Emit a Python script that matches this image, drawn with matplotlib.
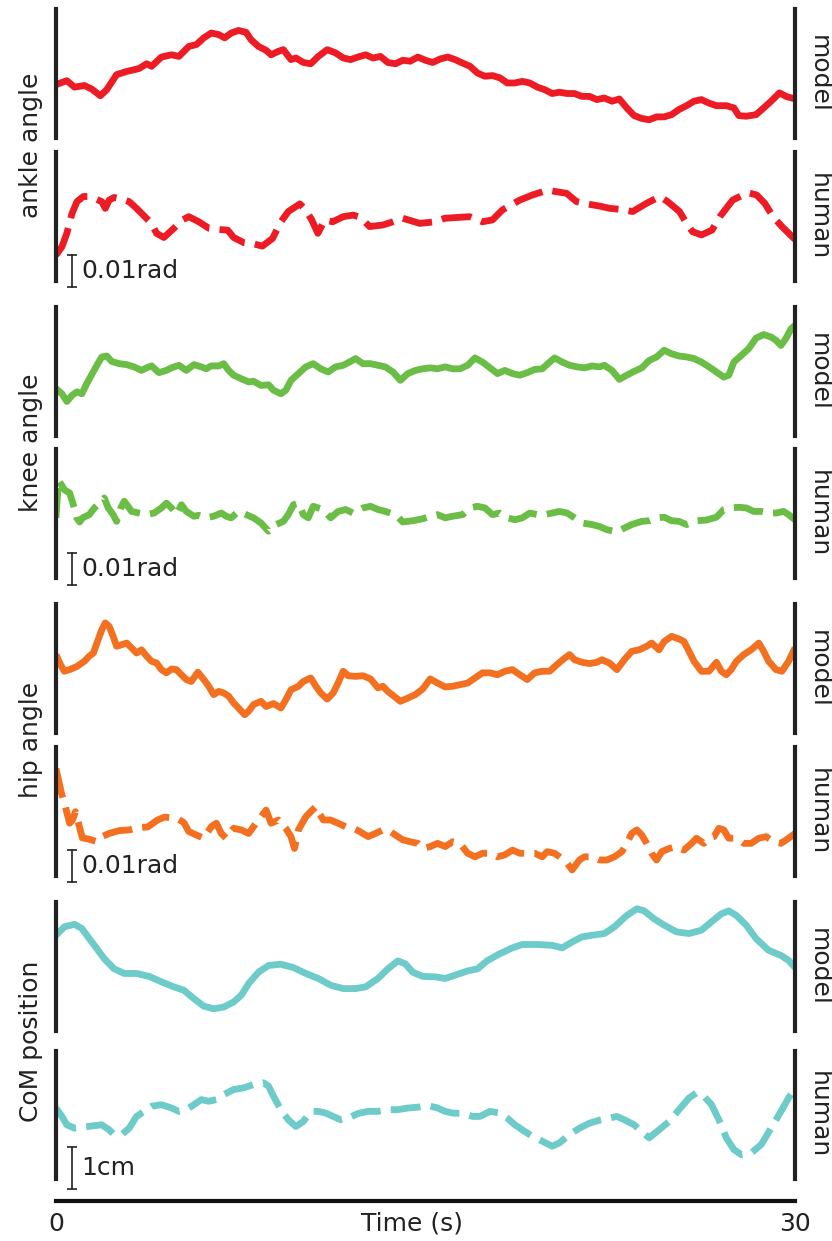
import numpy as np
import matplotlib
matplotlib.use("Agg")
import matplotlib.pyplot as plt

# ---------------- data (time in s, angles in mrad, CoM in mm) ----------------
ankle_model_t = [0.0, 0.44, 0.75, 1.15, 1.45, 1.80, 2.06, 2.46, 2.87, 3.37, 3.68, 3.88, 4.28, 4.69, 4.99, 5.39, 5.70,
                 6.00, 6.30, 6.61, 6.85, 7.11, 7.41, 7.72, 7.92, 8.22, 8.53, 8.73, 9.03, 9.23, 9.54, 9.74, 10.04,
                 10.34, 10.65, 11.01, 11.35, 11.66, 11.96, 12.26, 12.57, 12.87, 13.17, 13.47, 13.78, 14.08, 14.38,
                 14.69, 14.99, 15.29, 15.60, 15.90, 16.20, 16.51, 16.81, 17.11, 17.41, 17.72, 18.02, 18.32, 18.63,
                 18.93, 19.23, 19.54, 19.84, 20.14, 20.44, 20.75, 21.05, 21.35, 21.66, 21.96, 22.26, 22.57, 22.87,
                 23.17, 23.47, 23.78, 24.08, 24.38, 24.69, 24.99, 25.29, 25.60, 25.90, 26.20, 26.51, 26.81, 27.21,
                 27.52, 27.72, 28.02, 28.42, 28.73, 29.03, 29.37, 29.64, 30.0]
ankle_model_v = [16.7, 17.9, 15.9, 16.4, 15.3, 13.2, 15.1, 19.8, 20.8, 21.7, 23.2, 22.4, 25.3, 26.0, 25.5, 28.6, 29.2,
                 31.3, 32.8, 32.3, 31.3, 32.8, 33.6, 33.0, 30.7, 28.6, 27.4, 26.0, 27.1, 27.6, 24.5, 25.0, 23.6,
                 23.2, 25.5, 27.6, 26.6, 25.0, 24.5, 25.3, 26.0, 25.0, 25.5, 23.6, 23.2, 24.3, 24.0,
                 25.3, 24.3, 23.6, 24.7, 25.3, 24.5, 23.4, 22.4, 20.3, 19.3, 19.5, 18.8, 17.2, 17.2,
                 17.7, 17.2, 15.9, 15.1, 13.9, 14.3, 13.9, 13.9, 13.0, 13.0, 12.0, 12.5, 11.5, 12.2,
                 9.4, 7.0, 6.1, 5.7, 6.6, 6.6, 7.3, 8.9, 10.1, 11.5, 12.0, 10.9, 10.1, 10.1,
                 9.4, 7.0, 6.8, 7.3, 9.4, 11.5, 14.1, 13.0, 12.2]

ankle_human_t = [0.0, 0.24, 0.44, 0.65, 0.85, 1.11, 1.35, 1.66, 1.86, 2.00, 2.16, 2.36, 2.67, 2.97, 3.27, 3.58, 3.88,
                 4.08, 4.38, 4.79, 5.09, 5.39, 5.80, 6.20, 6.61, 6.97, 7.21, 7.62, 8.02, 8.38, 8.79, 9.13, 9.43,
                 9.90, 10.14, 10.38, 10.63, 10.91, 11.23, 11.66, 12.06, 12.36, 12.73, 13.27, 13.68, 14.08, 14.77,
                 15.37, 15.78, 16.79, 17.31, 17.72, 18.12, 18.83, 19.35, 19.96, 20.32, 20.73, 21.13, 21.54, 22.08,
                 22.48, 22.89, 23.41, 23.98, 24.51, 24.83, 25.31, 25.60, 25.84, 26.20, 26.63, 26.95, 27.47, 28.08,
                 28.44, 28.77, 29.11, 29.47, 30.0]
ankle_human_v = [8.1, 10.7, 14.9, 21.1, 24.8, 26.4, 26.4, 25.5, 24.8, 22.7, 25.3, 26.1, 25.6, 24.8, 22.7, 20.3, 18.0,
                 14.9, 13.6, 16.5, 18.9, 20.1, 18.5, 16.5, 16.1, 15.9, 13.6, 12.0, 11.6, 10.9, 13.3, 18.5, 21.7,
                 24.1, 22.2, 19.1, 14.9, 19.1, 18.5, 20.1, 20.6, 19.9, 17.0, 17.5, 18.5, 19.6, 18.0,
                 18.5, 19.6, 20.1, 18.5, 19.1, 22.2, 25.3, 26.9, 28.4, 27.9, 27.4, 24.8, 24.1, 23.4,
                 22.7, 22.4, 21.7, 24.3, 26.4, 24.8, 21.7, 18.0, 15.4, 14.4, 15.9, 20.1, 25.3, 27.6,
                 26.9, 24.3, 20.1, 17.0, 13.0]

knee_model_t = [0.0, 0.24, 0.44, 0.65, 0.85, 1.05, 1.25, 1.45, 1.66, 1.86, 2.06, 2.26, 2.57, 2.87, 3.17, 3.47, 3.68,
                3.88, 4.18, 4.48, 4.69, 4.99, 5.29, 5.60, 5.90, 6.10, 6.30, 6.61, 6.81, 7.01, 7.21, 7.52, 7.82,
                8.02, 8.32, 8.63, 8.83, 9.13, 9.33, 9.54, 9.84, 10.14, 10.44, 10.75, 11.05, 11.35, 11.66, 11.96,
                12.16, 12.46, 12.77, 13.07, 13.37, 13.68, 13.98, 14.28, 14.59, 14.89, 15.19, 15.49, 15.80, 16.10,
                16.40, 16.71, 17.01, 17.31, 17.62, 17.92, 18.22, 18.53, 18.83, 19.13, 19.43, 19.74, 20.04, 20.24,
                20.55, 20.85, 21.15, 21.45, 21.76, 22.06, 22.26, 22.57, 22.87, 23.17, 23.47, 23.78, 24.08, 24.38,
                24.69, 24.99, 25.29, 25.60, 25.90, 26.20, 26.51, 26.81, 27.11, 27.31, 27.52, 27.82, 28.12, 28.42,
                28.73, 29.03, 29.23, 29.43, 29.64, 29.84, 30.0]
knee_model_v = [14.8, 13.2, 10.8, 12.7, 13.8, 13.2, 16.4, 19.2, 22.1, 24.7, 25.0, 23.3, 22.6, 22.3, 21.6, 20.5, 21.3,
                21.9, 19.8, 20.5, 21.3, 22.1, 20.5, 22.3, 21.6, 21.0, 21.9, 21.9, 22.6, 20.5, 19.0, 17.9, 16.9,
                17.1, 15.8, 16.0, 14.3, 13.2, 14.3, 17.4, 19.5, 21.6, 22.6, 21.0, 20.0, 21.6, 22.1, 23.3,
                24.2, 22.6, 22.6, 22.1, 21.6, 20.0, 17.4, 19.5, 20.5, 21.0, 21.3, 21.0, 21.6, 21.0,
                21.0, 22.1, 24.4, 23.1, 21.3, 19.5, 20.5, 19.5, 19.0, 19.8, 20.8, 21.0, 23.1, 24.4,
                23.1, 22.1, 21.6, 21.3, 21.9, 21.6, 22.1, 20.5, 17.7, 19.0, 20.2, 21.3, 23.6, 24.7,
                26.8, 25.7, 25.0, 24.7, 24.2, 23.1, 21.6, 20.0, 18.4, 19.0, 23.1, 25.2, 27.3, 30.6,
                31.7, 30.9, 29.9, 28.3, 30.6, 33.5, 34.6]

knee_human_t = [0.0, 0.1, 0.35, 0.55, 0.67, 0.76, 0.84, 0.96, 1.08, 1.35, 1.56, 1.76, 1.96, 2.12, 2.32, 2.46, 2.63,
                2.77, 3.07, 3.37, 3.68, 3.98, 4.28, 4.48, 4.69, 4.89, 5.09, 5.29, 5.60, 5.80, 6.10, 6.40, 6.71,
                6.91, 7.11, 7.41, 7.72, 8.02, 8.32, 8.63, 8.93, 9.23, 9.43, 9.64, 9.84, 10.04, 10.24, 10.44,
                10.65, 10.85, 11.15, 11.45, 11.76, 12.06, 12.46, 12.77, 13.07, 13.37, 13.78, 14.08, 14.48, 14.89,
                15.19, 15.49, 15.80, 16.10, 16.51, 16.81, 17.11, 17.41, 17.72, 18.02, 18.32, 18.63, 18.93, 19.23,
                19.54, 19.84, 20.14, 20.44, 20.75, 21.05, 21.35, 21.76, 22.06, 22.36, 22.77, 23.07, 23.37, 23.78,
                24.08, 24.38, 24.69, 24.99, 25.29, 25.60, 26.00, 26.40, 26.81, 27.11, 27.41, 27.72, 28.02, 28.32,
                28.63, 28.93, 29.23, 29.54, 29.74, 30.0]
knee_human_v = [18.8, 30.6, 27.5, 26.6, 23.8, 21.3, 18.8, 17.5, 18.8, 19.8, 21.9, 23.4, 25.0, 21.9, 19.8, 17.7, 21.9,
                24.0, 20.8, 20.3, 19.8, 20.3, 21.9, 23.4, 21.9, 19.8, 22.9, 20.8, 19.3, 19.6, 18.8, 19.3, 20.3,
                19.3, 18.8, 20.8, 19.8, 18.8, 17.2, 14.6, 16.7, 17.7, 19.8, 22.9, 23.4, 19.8, 18.8, 22.4,
                21.9, 21.4, 18.8, 20.8, 21.4, 20.3, 21.9, 22.4, 21.4, 20.8, 19.8, 17.5, 17.9, 18.5,
                19.3, 19.8, 18.8, 19.3, 19.8, 21.9, 22.4, 21.9, 19.8, 20.3, 18.8, 18.2, 18.8, 20.3,
                19.8, 19.8, 20.3, 20.8, 20.3, 18.8, 17.2, 16.7, 16.1, 15.1, 14.4, 15.6, 16.7, 17.7,
                17.9, 18.8, 19.0, 17.9, 17.7, 16.7, 17.9, 18.1, 19.0, 21.4, 21.9, 22.1, 21.9, 20.8,
                20.8, 20.3, 20.3, 20.8, 19.8, 18.2]

hip_model_t = [0.0, 0.18, 0.34, 0.55, 0.85, 1.15, 1.35, 1.52, 1.66, 1.86, 2.00, 2.16, 2.32, 2.46, 2.67, 2.87, 3.07,
               3.27, 3.47, 3.68, 3.88, 4.08, 4.28, 4.48, 4.69, 4.89, 5.09, 5.29, 5.49, 5.76, 6.00, 6.20, 6.40,
               6.61, 6.81, 7.01, 7.21, 7.41, 7.66, 7.82, 8.02, 8.32, 8.53, 8.83, 9.13, 9.33, 9.54, 9.84, 10.04,
               10.34, 10.55, 10.75, 11.01, 11.25, 11.45, 11.66, 11.86, 12.16, 12.46, 12.77, 13.07, 13.27, 13.47,
               13.72, 13.98, 14.28, 14.59, 14.89, 15.19, 15.49, 15.80, 16.10, 16.40, 16.71, 17.01, 17.31, 17.62,
               17.92, 18.22, 18.53, 18.83, 19.13, 19.43, 19.74, 20.04, 20.34, 20.65, 20.85, 21.05, 21.35, 21.66,
               21.96, 22.16, 22.46, 22.77, 23.07, 23.37, 23.68, 23.98, 24.18, 24.48, 24.69, 24.99, 25.29, 25.49,
               25.70, 25.90, 26.20, 26.51, 26.81, 27.01, 27.21, 27.41, 27.62, 27.92, 28.22, 28.53, 28.73, 28.93,
               29.23, 29.47, 29.74, 30.0]
hip_model_v = [24.5, 21.4, 19.3, 19.8, 20.8, 22.4, 24.0, 25.0, 28.1, 32.3, 34.4, 33.3, 30.2, 27.1, 27.6, 28.1, 26.6,
               25.0, 26.0, 24.0, 22.4, 21.9, 19.8, 18.8, 20.0, 19.8, 18.2, 16.7, 16.1, 19.0, 16.7, 14.6, 12.0,
               13.0, 12.5, 11.5, 9.4, 7.8, 5.7, 6.8, 8.9, 9.9, 8.3, 9.2, 7.8, 10.4, 13.5, 14.6, 16.1,
               17.2, 14.6, 12.5, 10.6, 12.5, 15.6, 19.3, 17.9, 17.7, 17.9, 16.9, 14.1, 14.6, 13.0,
               11.5, 9.9, 10.9, 12.0, 13.8, 16.9, 15.6, 14.4, 14.6, 15.1, 15.6, 17.2, 18.8, 18.8,
               18.2, 19.3, 19.8, 18.2, 16.7, 18.8, 19.3, 19.3, 21.4, 23.4, 24.5, 22.9, 22.1, 21.7,
               22.1, 22.9, 21.9, 19.8, 22.9, 25.5, 26.0, 27.1, 28.1, 26.0, 28.6, 30.2, 29.4, 28.6,
               25.5, 22.4, 19.3, 19.3, 22.1, 19.3, 18.2, 19.8, 22.4, 24.5, 26.0, 28.1, 25.5, 22.4,
               19.8, 19.3, 22.4, 26.6]

hip_human_t = [0.0, 0.22, 0.38, 0.55, 0.67, 0.79, 0.95, 1.07, 1.35, 1.66, 1.86, 2.16, 2.57, 2.97, 3.37, 3.72, 4.12,
               4.40, 4.89, 5.19, 5.39, 5.70, 6.00, 6.30, 6.51, 6.71, 6.91, 7.21, 7.52, 7.82, 8.12, 8.32, 8.53,
               8.73, 9.03, 9.33, 9.54, 9.68, 9.84, 10.14, 10.34, 10.55, 10.69, 10.85, 11.15, 11.45, 11.76, 12.06,
               12.26, 12.67, 12.97, 13.27, 13.47, 13.78, 14.08, 14.38, 14.69, 14.89, 15.19, 15.49, 15.80, 16.10,
               16.40, 16.71, 17.01, 17.31, 17.62, 17.92, 18.22, 18.53, 18.83, 19.13, 19.43, 19.74, 19.94, 20.24,
               20.44, 20.75, 20.95, 21.25, 21.45, 21.76, 22.06, 22.36, 22.67, 22.97, 23.17, 23.37, 23.58, 23.78,
               23.98, 24.18, 24.38, 24.59, 24.89, 25.19, 25.49, 25.80, 26.00, 26.30, 26.51, 26.71, 26.91, 27.11,
               27.31, 27.52, 27.72, 27.92, 28.22, 28.53, 28.83, 29.13, 29.43, 29.74, 30.0]
hip_human_v = [33.6, 25.9, 21.7, 16.5, 17.5, 20.1, 15.4, 11.9, 11.5, 10.7, 12.3, 13.3, 14.2, 14.4, 15.2, 15.3, 17.5,
               18.4, 18.1, 16.7, 13.9, 12.8, 11.8, 15.4, 16.5, 13.3, 11.8, 14.9, 14.4, 13.3, 16.5, 18.5, 20.6,
               16.5, 17.5, 14.9, 12.3, 8.6, 14.4, 18.5, 20.1, 21.7, 19.6, 17.5, 17.5, 16.5, 15.4, 14.9,
               14.2, 12.3, 13.3, 14.4, 14.4, 12.8, 11.3, 10.7, 10.2, 8.6, 9.2, 10.2, 9.2, 10.7,
               10.2, 7.1, 6.0, 7.1, 7.1, 6.0, 6.6, 8.1, 7.1, 7.1, 7.1, 6.0, 7.6, 7.1,
               6.0, 4.0, 1.9, 5.0, 6.0, 6.0, 5.0, 5.0, 6.0, 7.6, 10.2, 13.3, 14.4, 12.8,
               10.2, 7.1, 5.0, 7.6, 8.6, 9.2, 8.1, 10.2, 11.8, 10.2, 11.8, 12.3, 14.9, 14.4,
               11.8, 11.8, 11.3, 10.2, 10.2, 11.8, 12.3, 10.7, 10.2, 11.8, 13.3]

com_model_t = [0.0, 0.34, 0.75, 1.05, 1.35, 1.66, 1.96, 2.36, 2.77, 3.27, 3.78, 4.28, 4.79, 5.19, 5.60, 6.00, 6.40,
               6.81, 7.21, 7.52, 7.82, 8.22, 8.63, 9.13, 9.64, 10.14, 10.65, 11.15, 11.66, 12.16, 12.57, 13.07,
               13.47, 13.88, 14.18, 14.48, 14.89, 15.39, 15.80, 16.20, 16.71, 17.11, 17.52, 18.02, 18.53, 18.93,
               19.54, 20.14, 20.55, 20.95, 21.35, 21.76, 22.26, 22.67, 23.17, 23.58, 23.88, 24.28, 24.69, 25.19,
               25.70, 26.20, 26.61, 27.01, 27.31, 27.62, 28.02, 28.42, 28.93, 29.43, 29.74, 30.0]
com_model_v = [22.8, 24.8, 25.4, 24.4, 22.0, 19.6, 17.2, 14.8, 13.7, 13.7, 13.0, 11.7, 10.5, 9.7, 7.7, 5.9, 5.3,
               5.7, 6.9, 8.5, 11.3, 14.0, 15.6, 15.9, 15.1, 13.7, 12.5, 10.9, 10.1, 10.1, 10.5, 12.5,
               14.8, 16.7, 16.0, 14.0, 13.0, 12.9, 12.5, 13.3, 14.3, 14.8, 16.8, 18.4, 19.8, 20.6,
               20.6, 20.4, 19.8, 21.2, 22.4, 22.8, 23.2, 24.8, 27.5, 29.1, 28.6, 26.7, 25.2, 23.6,
               23.2, 24.0, 26.0, 27.9, 28.6, 27.5, 25.2, 22.0, 19.2, 18.0, 16.8, 15.1]

com_human_t = [0.0, 0.24, 0.44, 0.75, 1.15, 1.56, 1.86, 2.16, 2.36, 2.67, 2.97, 3.27, 3.58, 3.88, 4.28, 4.69, 4.99,
               5.29, 5.60, 5.90, 6.20, 6.51, 6.81, 7.21, 7.62, 8.02, 8.42, 8.63, 8.83, 9.13, 9.43, 9.74, 10.04,
               10.34, 10.65, 10.95, 11.25, 11.56, 11.86, 12.26, 12.67, 13.07, 13.47, 13.88, 14.28, 14.69, 15.09,
               15.49, 15.80, 16.10, 16.51, 16.91, 17.21, 17.62, 18.02, 18.32, 18.63, 18.93, 19.33, 19.74, 20.14,
               20.44, 20.85, 21.25, 21.66, 22.06, 22.46, 22.77, 23.07, 23.47, 23.78, 24.08, 24.48, 24.89, 25.29,
               25.70, 26.00, 26.30, 26.61, 26.91, 27.21, 27.52, 27.82, 28.22, 28.63, 29.03, 29.43, 29.74, 30.0]
com_human_v = [16.9, 14.9, 12.9, 12.1, 12.4, 12.7, 12.9, 11.7, 10.6, 10.6, 12.1, 14.9, 16.1, 17.3, 17.7, 16.9, 16.1,
               16.5, 17.7, 18.9, 18.5, 18.9, 20.1, 21.3, 21.7, 22.5, 22.9, 22.1, 19.7, 16.5, 14.1, 12.5, 13.7,
               16.1, 16.1, 15.7, 14.9, 14.1, 14.5, 15.6, 16.1, 16.1, 16.5, 16.5, 16.9, 17.1, 17.5,
               16.9, 16.1, 15.7, 15.6, 14.9, 14.9, 16.1, 15.7, 14.5, 12.9, 11.7, 10.2, 9.0, 7.8,
               8.6, 10.6, 12.1, 13.3, 14.0, 14.5, 14.9, 14.1, 12.9, 11.3, 9.8, 11.7, 13.7, 16.5,
               19.3, 20.5, 19.7, 17.7, 14.1, 9.8, 7.0, 5.8, 6.2, 8.2, 12.1, 16.1, 19.3, 21.7]

group_labels = ["ankle angle", "knee angle", "hip angle", "CoM position"]
row_labels = ["model", "human"]
scale_labels = ["0.01rad", "0.01rad", "0.01rad", "1cm"]
scale_sizes = [10, 10, 10, 10]          # mrad / mm
x_ticks = [0, 30]
x_label = "Time (s)"

colors = ["#ed1c24", "#6abd45", "#f37021", "#6dcbc9"]
series = [
    [(ankle_model_t, ankle_model_v), (ankle_human_t, ankle_human_v)],
    [(knee_model_t, knee_model_v), (knee_human_t, knee_human_v)],
    [(hip_model_t, hip_model_v), (hip_human_t, hip_human_v)],
    [(com_model_t, com_model_v), (com_human_t, com_human_v)],
]

# ---------------- layout (pixels) ----------------
W, H = 832, 1241
fig = plt.figure(figsize=(W / 100, H / 100), dpi=100)
X0, X1 = 56, 795
panel_px = [[(9, 138), (152, 281)], [(307, 436), (449, 578)],
            [(604, 733), (747, 876)], [(902, 1031), (1051, 1179)]]
px_per_unit = [3.2, 3.2, 3.2, 4.2]
bar_below_px = [6, 7, 6, 10]
FS = 18
dark = "#222222"
LW = 4.9

for g in range(4):
    for r in range(2):
        top, bot = panel_px[g][r]
        ax = fig.add_axes([X0 / W, 1 - bot / H, (X1 - X0) / W, (bot - top) / H])
        t, v = series[g][r]
        if r == 0:
            ax.plot(t, v, color=colors[g], lw=LW, solid_capstyle="butt", solid_joinstyle="round")
        else:
            ax.plot(t, v, color=colors[g], lw=LW, linestyle=(0, (4.4, 1.5)), dash_capstyle="butt",
                    dash_joinstyle="round")
        ax.set_xlim(0, 30)
        ax.set_ylim(0, (bot - top) / px_per_unit[g])
        for s in ["top", "bottom"]:
            ax.spines[s].set_visible(False)
        for s in ["left", "right"]:
            ax.spines[s].set_linewidth(3.0)
            ax.spines[s].set_color(dark)
        ax.set_xticks([])
        ax.set_yticks([])
        ax.patch.set_alpha(0)
        fig.text(819 / W, 1 - (top + bot) / 2 / H, row_labels[r], rotation=270, ha="center", va="center",
                 fontsize=FS, color=dark)
        if r == 1:
            ylo = -bar_below_px[g] / px_per_unit[g]
            yhi = ylo + scale_sizes[g]
            xb = (72 - X0) / (X1 - X0) * 30
            ax.plot([xb, xb], [ylo, yhi], color=dark, lw=1.2, clip_on=False)
            ax.plot([xb, xb], [ylo, yhi], color=dark, lw=0, marker="_", markersize=7, mew=1.2, clip_on=False)
            xt = (81 - X0) / (X1 - X0) * 30
            ax.text(xt, (ylo + yhi) / 2, scale_labels[g], ha="left", va="center", fontsize=FS, color=dark,
                    clip_on=False)
    ymid = (panel_px[g][0][1] + panel_px[g][1][0]) / 2
    fig.text(31 / W, 1 - ymid / H, group_labels[g], rotation=90, ha="center", va="center", fontsize=FS,
             color=dark)

# bottom time axis
axb = fig.add_axes([X0 / W, 1 - 1201 / H, (X1 - X0) / W, 0.0001])
axb.set_xlim(0, 30)
for s in ["top", "left", "right"]:
    axb.spines[s].set_visible(False)
axb.spines["bottom"].set_linewidth(3.0)
axb.spines["bottom"].set_color("#111111")
axb.set_yticks([])
axb.set_xticks(x_ticks)
axb.set_xticklabels([str(x) for x in x_ticks], fontsize=FS, color=dark)
axb.tick_params(axis="x", length=0, pad=8)
axb.patch.set_alpha(0)
fig.text(412 / W, 1 - 1223 / H, x_label, ha="center", va="center", fontsize=FS, color=dark)

fig.savefig("out.png", dpi=100)
